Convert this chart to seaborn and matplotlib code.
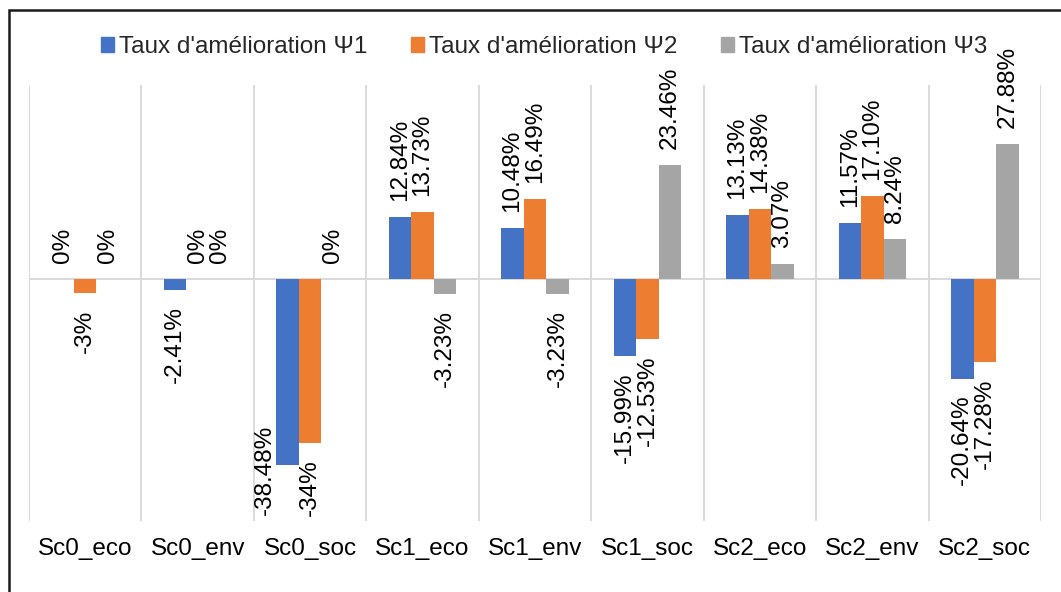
import matplotlib
matplotlib.use("Agg")

import matplotlib.pyplot as plt
import seaborn as sns
import pandas as pd
from matplotlib.patches import Rectangle

# ------------------------------------------------------------------
# Data
# ------------------------------------------------------------------

categories = [
    "Sc0_eco", "Sc0_env", "Sc0_soc",
    "Sc1_eco", "Sc1_env", "Sc1_soc",
    "Sc2_eco", "Sc2_env", "Sc2_soc",
]

series_names = [
    "Taux d'amélioration Ψ1",
    "Taux d'amélioration Ψ2",
    "Taux d'amélioration Ψ3",
]

psi1 = [0, -2.41, -38.48, 12.84, 10.48, -15.99, 13.13, 11.57, -20.64]
psi2 = [-3, 0, -34, 13.73, 16.49, -12.53, 14.38, 17.10, -17.28]
psi3 = [0, 0, 0, -3.23, -3.23, 23.46, 3.07, 8.24, 27.88]

psi1_labels = ["0%", "-2.41%", "-38.48%", "12.84%", "10.48%", "-15.99%", "13.13%", "11.57%", "-20.64%"]
psi2_labels = ["-3%", "0%", "-34%", "13.73%", "16.49%", "-12.53%", "14.38%", "17.10%", "-17.28%"]
psi3_labels = ["0%", "0%", "0%", "-3.23%", "-3.23%", "23.46%", "3.07%", "8.24%", "27.88%"]

colors = ["#4472C4", "#ED7D31", "#A5A5A5"]

df = pd.DataFrame({
    "categorie": categories * 3,
    "serie": [series_names[0]] * 9 + [series_names[1]] * 9 + [series_names[2]] * 9,
    "valeur": psi1 + psi2 + psi3,
})
labels = [psi1_labels, psi2_labels, psi3_labels]

# ------------------------------------------------------------------
# Style
# ------------------------------------------------------------------

sns.set_theme(style="white")
plt.rcParams["font.family"] = ["Liberation Sans", "DejaVu Sans"]
FS = 17.5

W, H = 1061, 592
fig = plt.figure(figsize=(W / 100, H / 100), dpi=100)
ax = fig.add_axes([29 / W, 71 / H, (1041 - 29) / W, (521 - 85) / H])

# ------------------------------------------------------------------
# Bars
# ------------------------------------------------------------------

sns.barplot(
    data=df,
    x="categorie",
    y="valeur",
    hue="serie",
    palette=colors,
    saturation=1,
    width=0.6,
    linewidth=0,
    legend=False,
    ax=ax,
    zorder=3,
)

ax.set_xlim(-0.5, len(categories) - 0.5)
ax.set_ylim(-50, 40)

for i in range(len(categories) + 1):
    ax.axvline(i - 0.5, color="#D9D9D9", lw=1.4, zorder=1)
ax.axhline(0, color="#D9D9D9", lw=1.4, zorder=2)

for s in ax.spines.values():
    s.set_visible(False)
ax.set_yticks([])
ax.set_xlabel("")
ax.set_ylabel("")
ax.tick_params(axis="x", length=0, pad=12, labelsize=FS, labelcolor="black")

# ------------------------------------------------------------------
# Data labels
# ------------------------------------------------------------------

texts = []
for cont, labs in zip(ax.containers, labels):
    for bar, lab in zip(cont, labs):
        xc = bar.get_x() + bar.get_width() / 2
        h = bar.get_height()
        up = h >= 0
        t = ax.annotate(
            lab,
            xy=(xc, h),
            xytext=(0, 11.5 if up else -11.5),
            textcoords="offset points",
            rotation=90,
            ha="center",
            va="bottom" if up else "top",
            fontsize=FS,
            color="black",
            annotation_clip=False,
        )
        texts.append((t, bar))

# labels that would run past the bottom of the plot get pushed inside, beside the bar
fig.canvas.draw()
renderer = fig.canvas.get_renderer()
ax_box = ax.get_window_extent(renderer)
for t, bar in texts:
    bb = t.get_window_extent(renderer)
    if bb.y0 < ax_box.y0 + 4:
        t.xy = (bar.get_x() - bar.get_width() / 2, -48.8)
        t.xyann = (0, 0)
        t.set_va("bottom")

# ------------------------------------------------------------------
# Legend + frame
# ------------------------------------------------------------------

handles = [Rectangle((0, 0), 1, 1, color=c) for c in colors]
fig.legend(
    handles,
    series_names,
    loc="center",
    bbox_to_anchor=(544 / W, 1 - 47 / H),
    ncol=3,
    frameon=False,
    fontsize=FS,
    handlelength=0.54,
    handleheight=0.54,
    handletextpad=0.2,
    columnspacing=1.8,
)

top = 1 - 10 / H
fig.patches.append(
    Rectangle(
        (9 / W, -0.2), 1.2, top + 0.2,
        transform=fig.transFigure, fill=False,
        edgecolor="#1a1a1a", lw=1.8, clip_on=False,
    )
)

fig.savefig("out.png", dpi=100)
